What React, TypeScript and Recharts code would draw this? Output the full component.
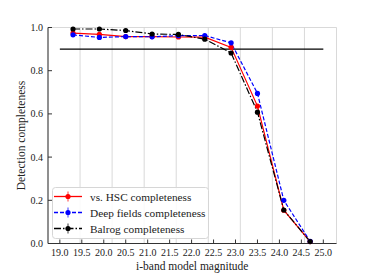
import React from 'react';
import {
  LineChart, Line, XAxis, YAxis, CartesianGrid, ReferenceLine,
} from 'recharts';

const magnitudes = [19.3, 19.9, 20.5, 21.1, 21.7, 22.3, 22.9, 23.5, 24.1, 24.7];
const hscCompleteness = [0.974, 0.968, 0.958, 0.958, 0.956, 0.955, 0.908, 0.636, 0.154, 0.009];
const deepCompleteness = [0.966, 0.954, 0.958, 0.957, 0.962, 0.963, 0.929, 0.695, 0.200, 0.010];
const balrogCompleteness = [0.993, 0.993, 0.986, 0.970, 0.968, 0.946, 0.882, 0.608, 0.155, 0.009];
const xTicks = [19.0, 19.5, 20.0, 20.5, 21.0, 21.5, 22.0, 22.5, 23.0, 23.5, 24.0, 24.5, 25.0];
const yTicks = [0.0, 0.2, 0.4, 0.6, 0.8, 1.0];
const threshold = 0.9;
const thresholdRange = [19.0, 25.0];

const data = magnitudes.map((m, i) => ({
  mag: m,
  hsc: hscCompleteness[i],
  deep: deepCompleteness[i],
  balrog: balrogCompleteness[i],
}));

const FONT = "'Liberation Serif', 'DejaVu Serif', serif";
const FRAME = '#333333';
const GRID = '#cfcfcf';

const legendItems = [
  { label: 'vs. HSC completeness', color: '#ff0000', dash: undefined as string | undefined },
  { label: 'Deep fields completeness', color: '#0000ff', dash: '4 2' },
  { label: 'Balrog completeness', color: '#000000', dash: '7 2 1.5 2' },
];

const LegendBox = () => (
  <svg
    width={160}
    height={56}
    style={{ position: 'absolute', left: 51, top: 186, overflow: 'visible' }}
  >
    <rect x={1.5} y={1.5} width={156} height={51} rx={3} ry={3} fill="rgba(255,255,255,0.85)" stroke="#d6d6d6" strokeWidth={1} />
    {legendItems.map((it, i) => {
      const cy = 10.5 + i * 16;
      return (
        <g key={it.label}>
          <line x1={3} x2={31} y1={cy} y2={cy} stroke={it.color} strokeWidth={1.3} strokeDasharray={it.dash} />
          <line x1={17} x2={17} y1={cy - 5} y2={cy + 5} stroke={it.color} strokeWidth={1.3} strokeOpacity={0.6} />
          <circle cx={17} cy={cy} r={2.6} fill={it.color} />
          <text x={39} y={cy + 4} fontFamily={FONT} fontSize={11.3} fill="#222">{it.label}</text>
        </g>
      );
    })}
  </svg>
);

export default function App() {
  const tickStyle = { fontFamily: FONT, fontSize: 10, fill: '#222' };
  return (
    <div style={{ position: 'absolute', left: 0, top: 0, width: 374, height: 280, background: '#fff' }}>
      <LineChart
        width={374}
        height={280}
        data={data}
        margin={{ top: 27.5, right: 37.5, bottom: 0, left: 0 }}
      >
        <CartesianGrid stroke={GRID} strokeWidth={0.8} />
        <XAxis
          xAxisId="b"
          dataKey="mag"
          type="number"
          domain={[18.73, 25.3]}
          ticks={xTicks}
          tickFormatter={(v: number) => v.toFixed(1)}
          allowDataOverflow
          height={36.5}
          tickSize={-4}
          tickMargin={9}
          stroke={FRAME}
          tick={tickStyle}
          interval={0}
          label={{ value: 'i-band model magnitude', position: 'insideBottom', offset: 10, style: { fontFamily: FONT, fontSize: 11.5, fill: '#222' } }}
        />
        <XAxis
          xAxisId="t"
          orientation="top"
          dataKey="mag"
          type="number"
          domain={[18.73, 25.3]}
          ticks={xTicks}
          tickFormatter={() => ''}
          allowDataOverflow
          height={0}
          tickSize={-4}
          stroke={FRAME}
          interval={0}
        />
        <YAxis
          yAxisId="l"
          type="number"
          domain={[0, 1]}
          ticks={yTicks}
          tickFormatter={(v: number) => v.toFixed(1)}
          width={48}
          tickSize={-4}
          tickMargin={9}
          stroke={FRAME}
          tick={tickStyle}
          interval={0}
          label={{ value: 'Detection completeness', angle: -90, position: 'insideLeft', offset: 21, style: { textAnchor: 'middle', fontFamily: FONT, fontSize: 11.5, fill: '#222' } }}
        />
        <YAxis
          yAxisId="r"
          orientation="right"
          type="number"
          domain={[0, 1]}
          ticks={yTicks}
          tickFormatter={() => ''}
          width={0}
          tickSize={-4}
          stroke={FRAME}
          interval={0}
        />
        <ReferenceLine
          xAxisId="b"
          yAxisId="l"
          segment={[{ x: thresholdRange[0], y: threshold }, { x: thresholdRange[1], y: threshold }]}
          stroke="#000"
          strokeWidth={1.2}
        />
        <Line
          xAxisId="b"
          yAxisId="l"
          dataKey="hsc"
          stroke="#ff0000"
          strokeWidth={1.2}
          dot={{ r: 2.6, fill: '#ff0000', stroke: 'none' }}
          isAnimationActive={false}
        />
        <Line
          xAxisId="b"
          yAxisId="l"
          dataKey="deep"
          stroke="#0000ff"
          strokeWidth={1.2}
          strokeDasharray="4 2"
          dot={{ r: 2.6, fill: '#0000ff', stroke: 'none' }}
          isAnimationActive={false}
        />
        <Line
          xAxisId="b"
          yAxisId="l"
          dataKey="balrog"
          stroke="#000000"
          strokeWidth={1.2}
          strokeDasharray="7 2 1.5 2"
          dot={{ r: 2.6, fill: '#000000', stroke: 'none' }}
          isAnimationActive={false}
        />
      </LineChart>
      <LegendBox />
    </div>
  );
}
